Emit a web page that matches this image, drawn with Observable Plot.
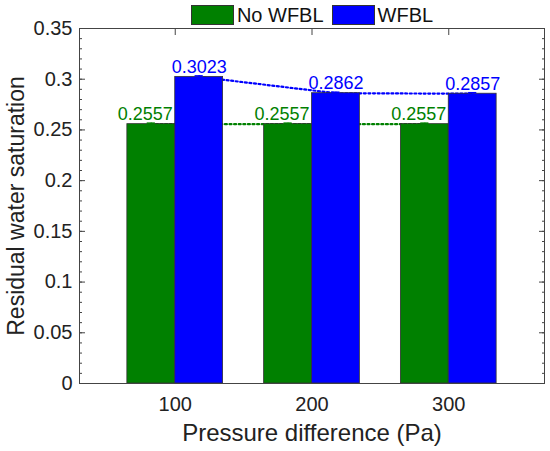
<!DOCTYPE html>
<html>
<head>
<meta charset="utf-8">
<script src="https://cdn.jsdelivr.net/npm/d3@7"></script>
<script src="https://cdn.jsdelivr.net/npm/@observablehq/plot@0.6"></script>
<style>
  html, body { margin: 0; padding: 0; background: #fff; }
  body { width: 550px; height: 451px; overflow: hidden; position: relative; font-family: "Liberation Sans", Arial, sans-serif; }
  #legend { position: absolute; left: 79px; top: 3px; height: 24px; width: 466px; display: flex; justify-content: center; align-items: center; z-index: 2; }
  .item { display: flex; align-items: center; margin: 0 4px; font-size: 20px; color: #111; }
  .swatch { width: 41px; height: 18px; border: 1px solid #333; margin-right: 3px; }
</style>
</head>
<body>
<div id="legend"></div>
<div id="chart"></div>
<script>
// ---- data ----
const pressures = [100, 200, 300];
const xTickLabels = ["100", "200", "300"];
const noWFBL = [0.2557, 0.2557, 0.2557];
const wfbl = [0.3023, 0.2862, 0.2857];
const errNo = [0.001, 0.001, 0.001];
const errW = [0.001, 0.001, 0.001];
const seriesNames = ["No WFBL", "WFBL"];
const seriesColors = ["#008000", "#0000ff"];
const yMajorTicks = [0, 0.05, 0.1, 0.15, 0.2, 0.25, 0.3, 0.35];
const yTickLabels = ["0", "0.05", "0.1", "0.15", "0.2", "0.25", "0.3", "0.35"];
const yMinorTicks = d3.range(0, 36).map(i => i / 100);

// ---- legend ----
const legend = document.getElementById("legend");
seriesNames.forEach((name, i) => {
  const it = document.createElement("div");
  it.className = "item";
  const sw = document.createElement("div");
  sw.className = "swatch";
  sw.style.background = seriesColors[i];
  const lb = document.createElement("span");
  lb.textContent = name;
  it.appendChild(sw); it.appendChild(lb);
  legend.appendChild(it);
});

// ---- table ----
const barW = 35; // bar width in x-units
const rows = pressures.flatMap((p, i) => [
  {p, series: seriesNames[0], v: noWFBL[i], e: errNo[i], side: -1},
  {p, series: seriesNames[1], v: wfbl[i], e: errW[i], side: 1}
]);
const cx = d => d.p + d.side * barW / 2;
const green = rows.filter(d => d.side < 0);
const blue = rows.filter(d => d.side > 0);
const fmtY = d => yTickLabels[yMajorTicks.findIndex(t => Math.abs(t - d) < 1e-9)];
const axisColor = "#444";

const chart = Plot.plot({
  width: 550,
  height: 451,
  marginTop: 28,
  marginBottom: 68,
  marginLeft: 79,
  marginRight: 6,
  style: {fontFamily: "'Liberation Sans', Arial, sans-serif", background: "#fff", color: "#222"},
  x: {type: "linear", domain: [30, 370], label: null},
  y: {domain: [0, 0.35], label: null},
  color: {domain: seriesNames, range: seriesColors},
  marks: [
    // dotted connecting lines (behind bars)
    Plot.line(green, {x: cx, y: "v", stroke: seriesColors[0], strokeWidth: 2.2, strokeDasharray: "2,2.6"}),
    Plot.line(blue, {x: cx, y: "v", stroke: seriesColors[1], strokeWidth: 2.2, strokeDasharray: "2,2.6"}),
    // bars
    Plot.rectY(rows, {
      x1: d => d.side < 0 ? d.p - barW : d.p,
      x2: d => d.side < 0 ? d.p : d.p + barW,
      y1: 0, y2: "v", fill: "series", stroke: "#333", strokeWidth: 0.8
    }),
    // tiny error bars
    Plot.ruleX(rows, {x: cx, y1: d => d.v - d.e, y2: d => d.v + d.e, stroke: "series", strokeWidth: 1.5}),
    Plot.ruleY(rows, {x1: d => cx(d) - 3, x2: d => cx(d) + 3, y: d => d.v + d.e, stroke: "series", strokeWidth: 1.5}),
    // value labels
    Plot.text(green, {x: cx, y: "v", text: d => d.v.toFixed(4), fill: seriesColors[0], dx: -6, dy: -4, lineAnchor: "bottom", fontSize: 18}),
    Plot.text(blue, {x: cx, y: "v", text: d => d.v.toFixed(4), fill: seriesColors[1], dy: -4, lineAnchor: "bottom", fontSize: 18}),
    // axes
    Plot.axisY({anchor: "left", ticks: yMinorTicks, tickSize: -3, text: null, stroke: axisColor, label: null}),
    Plot.axisY({anchor: "right", ticks: yMinorTicks, tickSize: -3, text: null, stroke: axisColor, label: null}),
    Plot.axisY({anchor: "left", ticks: yMajorTicks, tickSize: -6, tickPadding: 13, tickFormat: fmtY, fontSize: 20, stroke: axisColor, fill: "#222", label: null}),
    Plot.axisY({anchor: "right", ticks: yMajorTicks, tickSize: -6, text: null, stroke: axisColor, label: null}),
    Plot.axisX({anchor: "top", ticks: pressures, tickSize: -6, text: null, stroke: axisColor, label: null}),
    Plot.axisX({anchor: "bottom", ticks: pressures, tickSize: 0, tickPadding: 13, tickFormat: d => xTickLabels[pressures.indexOf(d)], fontSize: 20, fill: "#222", label: null}),
    Plot.frame({stroke: axisColor, strokeWidth: 1}),
    // axis titles
    Plot.text(["Residual water saturation"], {frameAnchor: "left", rotate: -90, dx: -63, lineAnchor: "middle", textAnchor: "middle", fontSize: 23, fill: "#222"}),
    Plot.text(["Pressure difference (Pa)"], {frameAnchor: "bottom", dy: 57, lineAnchor: "bottom", fontSize: 24, fill: "#222"})
  ]
});
document.getElementById("chart").appendChild(chart);
</script>
</body>
</html>
